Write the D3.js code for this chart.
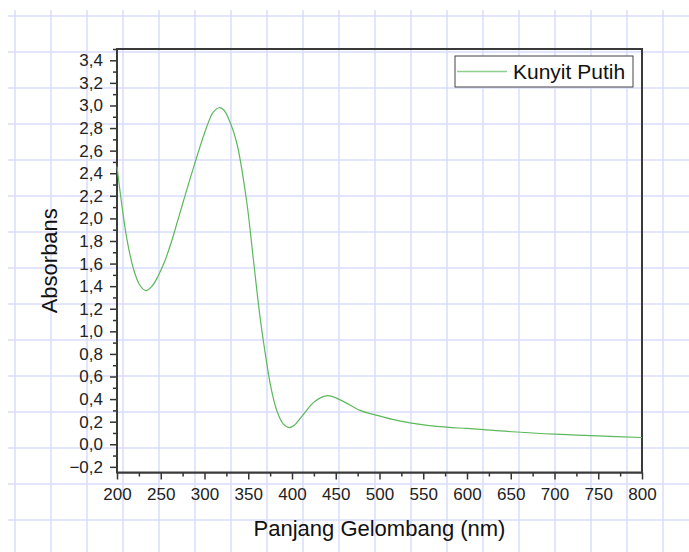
<!DOCTYPE html>
<html>
<head>
    <meta http-equiv="Content-Type" content="text/html;charset=utf8" />
    <title>Kunyit Putih</title>
    <script src="https://d3js.org/d3.v7.min.js"></script>
    <style>
        body { margin: 0; background: #fff; font-family: "Liberation Sans", Arial, sans-serif; }
        .axis path, .axis line { stroke: #333; }
        .axis text { fill: #222; font-size: 17px; font-family: "Liberation Sans", Arial, sans-serif; }
    </style>
</head>
<body>
<div id="chart"></div>
<script>
    // spectrum
    var wavelength = [200, 205, 211, 218.6, 226, 233, 240, 247, 255, 262.5, 269, 275.8, 289, 302.5, 310, 316.6, 322, 327.2, 336.8, 348.2, 355.8, 363.4, 369.1, 376, 383, 390, 396.9, 403, 411, 426.3, 440.8, 458.6, 477.7, 494.9, 515, 534.9, 576.8, 600, 637.7, 700, 750, 800];
    var absorbance = [2.46, 2.15, 1.83, 1.56, 1.41, 1.36, 1.40, 1.49, 1.63, 1.80, 1.97, 2.15, 2.49, 2.81, 2.94, 2.98, 2.96, 2.89, 2.67, 2.15, 1.64, 1.13, 0.82, 0.50, 0.29, 0.18, 0.147, 0.17, 0.245, 0.38, 0.43, 0.38, 0.30, 0.26, 0.22, 0.19, 0.151, 0.14, 0.118, 0.089, 0.074, 0.06];
    var seriesName = "Kunyit Putih";
    var xTitle = "Panjang Gelombang (nm)";
    var yTitle = "Absorbans";

    var W = 689, H = 552;
    var m = {left: 117, right: 642, top: 49, bottom: 472.5};

    var svg = d3.select("#chart").append("svg").attr("width", W).attr("height", H);

    // graph-paper background
    var grid = svg.append("g").attr("stroke", "#d8dcfb").attr("stroke-width", 1.5);
    grid.selectAll(".gv").data(d3.range(15, W, 36)).enter().append("line")
        .attr("x1", function(d) { return d; }).attr("x2", function(d) { return d; })
        .attr("y1", 10).attr("y2", H);
    grid.selectAll(".gh").data(d3.range(16, H, 36)).enter().append("line")
        .attr("x1", 8).attr("x2", W)
        .attr("y1", function(d) { return d; }).attr("y2", function(d) { return d; });

    var x = d3.scaleLinear().domain([200, 800]).range([m.left, m.right]);
    var y = d3.scaleLinear().domain([-0.25, 3.5]).range([m.bottom, m.top]);

    var fmt = function(d) { return d3.format(".1f")(d).replace(".", ","); };

    // minor ticks
    svg.append("g").attr("class", "axis").attr("transform", "translate(0," + m.bottom + ")")
        .call(d3.axisBottom(x).tickValues(d3.range(225, 800, 50)).tickSize(4).tickSizeOuter(0).tickFormat(""))
        .call(function(g) { g.select(".domain").remove(); })
        .selectAll("line").attr("stroke-width", 1.5);
    svg.append("g").attr("class", "axis").attr("transform", "translate(" + m.left + ",0)")
        .call(d3.axisLeft(y).tickValues(d3.range(-0.1, 3.55, 0.2)).tickSize(4).tickSizeOuter(0).tickFormat(""))
        .call(function(g) { g.select(".domain").remove(); })
        .selectAll("line").attr("stroke-width", 1.5);

    // major ticks
    var xa = svg.append("g").attr("class", "axis").attr("transform", "translate(0," + m.bottom + ")")
        .call(d3.axisBottom(x).tickValues(d3.range(200, 801, 50)).tickSize(7).tickSizeOuter(0).tickPadding(8));
    xa.selectAll("line").attr("stroke-width", 1.5);
    var ya = svg.append("g").attr("class", "axis").attr("transform", "translate(" + m.left + ",0)")
        .call(d3.axisLeft(y).tickValues(d3.range(-0.2, 3.45, 0.2)).tickSize(7).tickSizeOuter(0).tickPadding(7).tickFormat(fmt));
    ya.selectAll("line").attr("stroke-width", 1.5);

    // frame
    svg.append("rect").attr("x", m.left).attr("y", m.top)
        .attr("width", m.right - m.left).attr("height", m.bottom - m.top)
        .attr("fill", "none").attr("stroke", "#3a3a3a").attr("stroke-width", 2);

    var line = d3.line()
        .x(function(d, i) { return x(wavelength[i]); })
        .y(function(d) { return y(d); })
        .curve(d3.curveCatmullRom.alpha(0.5));

    svg.append("path").datum(absorbance)
        .attr("d", line)
        .attr("fill", "none").attr("stroke", "#5cb85c").attr("stroke-width", 1.2);

    // legend
    var lg = svg.append("g");
    lg.append("rect").attr("x", 455).attr("y", 56).attr("width", 178).attr("height", 31)
        .attr("fill", "#fff").attr("stroke", "#444").attr("stroke-width", 1);
    lg.append("line").attr("x1", 457).attr("x2", 507).attr("y1", 71.5).attr("y2", 71.5)
        .attr("stroke", "#8fd08f").attr("stroke-width", 1.5);
    lg.append("text").attr("x", 513).attr("y", 79).attr("font-size", 21).attr("fill", "#111")
        .text(seriesName);

    // titles
    svg.append("text").attr("x", (m.left + m.right) / 2).attr("y", 536)
        .attr("text-anchor", "middle").attr("font-size", 22).attr("fill", "#111").text(xTitle);
    svg.append("text").attr("transform", "translate(57," + ((m.top + m.bottom) / 2) + ") rotate(-90)")
        .attr("text-anchor", "middle").attr("font-size", 22).attr("fill", "#111").text(yTitle);
</script>
</body>
</html>
